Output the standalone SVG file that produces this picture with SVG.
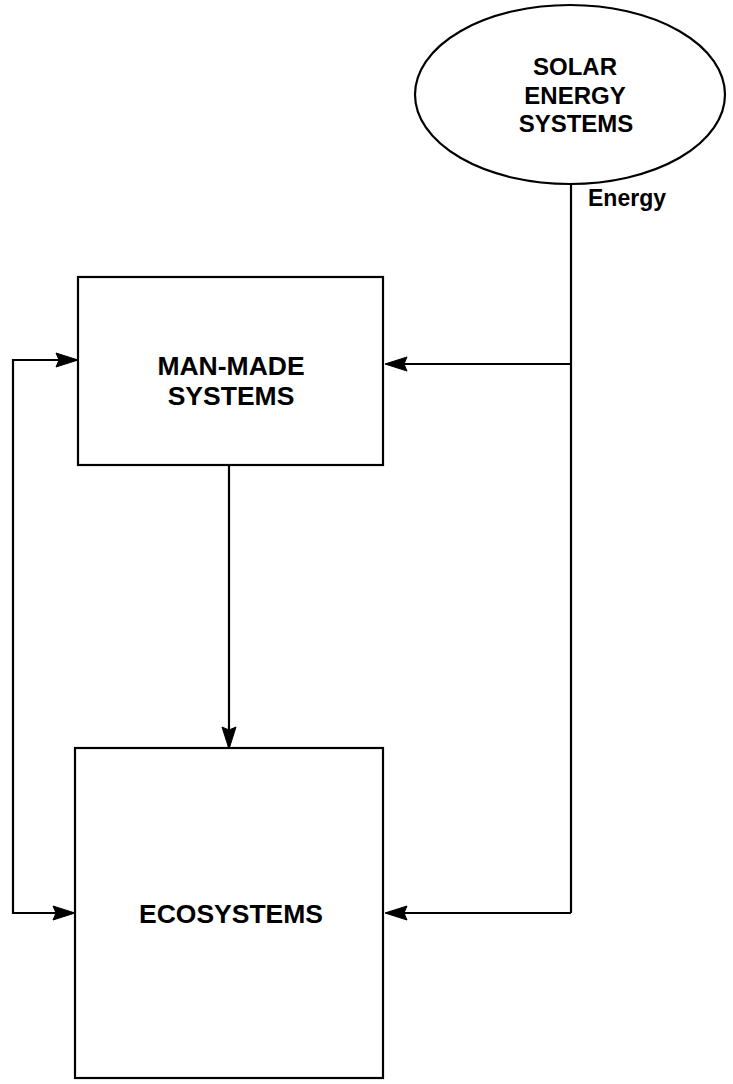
<svg xmlns="http://www.w3.org/2000/svg" width="733" height="1084" viewBox="0 0 733 1084">
<style>
.box{fill:#fff;stroke:#000;stroke-width:2.2}
.lbl{font-family:"Liberation Sans",Arial,sans-serif;font-weight:bold;font-size:26.5px;text-anchor:middle;fill:#000}
.sm{font-size:24px}
.edge{fill:none;stroke:#000;stroke-width:2.2}
</style>
<defs>
<marker id="ah" markerUnits="userSpaceOnUse" markerWidth="22" markerHeight="16" refX="21" refY="8" orient="auto" overflow="visible">
<path d="M0,1 L22,8 L0,15 L3,8 z" fill="#000" stroke="#000" stroke-width="1"/>
</marker>
<marker id="ahs" markerUnits="userSpaceOnUse" markerWidth="22" markerHeight="16" refX="21" refY="8" orient="auto-start-reverse" overflow="visible">
<path d="M0,1 L22,8 L0,15 L3,8 z" fill="#000" stroke="#000" stroke-width="1"/>
</marker>
</defs>
<rect width="733" height="1084" fill="#fff"/>
<g id="solar">
<ellipse class="box" cx="570" cy="94.5" rx="155" ry="89.5"/>
<text class="lbl sm" x="575" y="75">SOLAR</text>
<text class="lbl sm" x="575" y="103.5">ENERGY</text>
<text class="lbl sm" x="576" y="132">SYSTEMS</text>
</g>
<g id="manmade">
<rect class="box" x="78" y="277" width="305" height="188"/>
<text class="lbl" x="231" y="375">MAN-MADE</text>
<text class="lbl" x="231" y="405">SYSTEMS</text>
</g>
<g id="ecosystems">
<rect class="box" x="75" y="748" width="308" height="330"/>
<text class="lbl" x="231" y="923">ECOSYSTEMS</text>
</g>
<g id="connectors">
<path class="edge" d="M571,184 V913"/>
<path class="edge" d="M571,364 H386" marker-end="url(#ah)"/>
<path class="edge" d="M571,913 H386" marker-end="url(#ah)"/>
<path class="edge" d="M229,466 V748" marker-end="url(#ah)"/>
<path class="edge" d="M74,913 H13 V360 H77" marker-start="url(#ahs)" marker-end="url(#ah)"/>
<text x="588" y="206" font-family="Liberation Sans,Arial,sans-serif" font-weight="bold" font-size="23" fill="#000">Energy</text>
</g>
</svg>
